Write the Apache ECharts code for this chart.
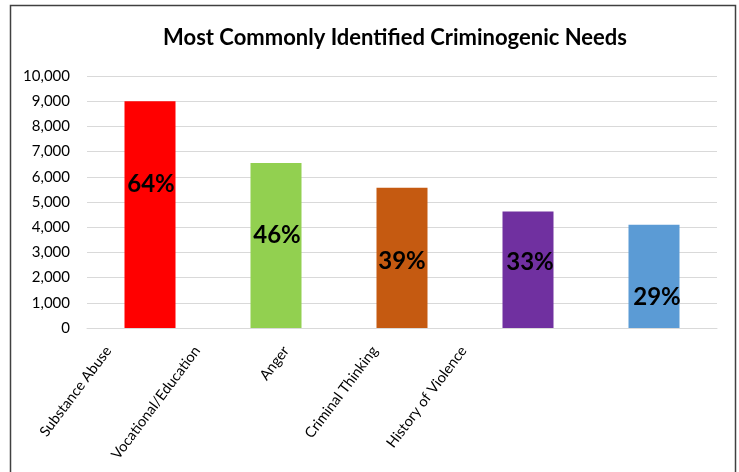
<!DOCTYPE html>
<html>
<head>
<meta charset="utf-8">
<script src="https://cdn.jsdelivr.net/npm/echarts@6/dist/echarts.min.js"></script>
<style>
html,body{margin:0;padding:0;background:#fff;}
#chart{width:739px;height:472px;}
</style>
</head>
<body>
<div id="chart"></div>
<script>
var categories = ['Substance Abuse', 'Vocational/Education', 'Anger', 'Criminal Thinking', 'History of Violence'];
var counts = [9000, 6550, 5570, 4620, 4100];
var percents = ['64%', '46%', '39%', '33%', '29%'];
var barColors = ['#FF0000', '#92D050', '#C55A11', '#7030A0', '#5B9BD5'];
var labelOffsets = [[1, -30], [1, -10], [0, 3], [2, -8], [3, 21]];

var chart = echarts.init(document.getElementById('chart'));
var font = 'Lato, "Noto Sans", sans-serif';
chart.setOption({
  animation: false,
  backgroundColor: '#fff',
  title: {
    text: 'Most Commonly Identified Criminogenic Needs',
    left: 390, top: 22, textAlign: 'center',
    textStyle: { fontFamily: font, fontWeight: 'bold', fontSize: 22, color: '#000' }
  },
  graphic: [{
    type: 'rect', silent: true,
    shape: { x: 10.5, y: 5.5, width: 725, height: 480 },
    style: { fill: 'none', stroke: '#404040', lineWidth: 1.5 }
  }],
  grid: [
    { left: 87, right: 22, top: 76, bottom: 144 },
    { left: 64, width: 444, top: 76, bottom: 144 }
  ],
  xAxis: [{
    type: 'category', gridIndex: 0, data: categories,
    axisLine: { lineStyle: { color: '#D9D9D9', width: 1 } },
    axisTick: { show: false },
    axisLabel: { show: false }
  }, {
    type: 'category', gridIndex: 1, data: categories,
    axisLine: { show: false }, axisTick: { show: false },
    axisLabel: { rotate: 53, margin: 20, interval: 0, fontFamily: font, fontSize: 14.5, color: '#000' }
  }],
  yAxis: [{
    type: 'value', gridIndex: 0, min: 0, max: 10000, interval: 1000,
    axisLine: { show: false }, axisTick: { show: false },
    splitLine: { lineStyle: { color: '#D9D9D9', width: 1 } },
    axisLabel: {
      margin: 17, fontFamily: font, fontSize: 15, color: '#000',
      formatter: function (v) { return v.toLocaleString('en-US'); }
    }
  }, {
    type: 'value', gridIndex: 1, show: false, min: 0, max: 1
  }],
  series: [{
    type: 'bar', xAxisIndex: 0, yAxisIndex: 0,
    barWidth: 51,
    data: counts.map(function (v, i) {
      return {
        value: v,
        itemStyle: { color: barColors[i] },
        label: { offset: labelOffsets[i] }
      };
    }),
    label: {
      show: true, position: 'inside',
      fontFamily: font, fontWeight: 'bold', fontSize: 24, color: '#000',
      formatter: function (p) { return percents[p.dataIndex]; }
    }
  }]
});
</script>
</body>
</html>
